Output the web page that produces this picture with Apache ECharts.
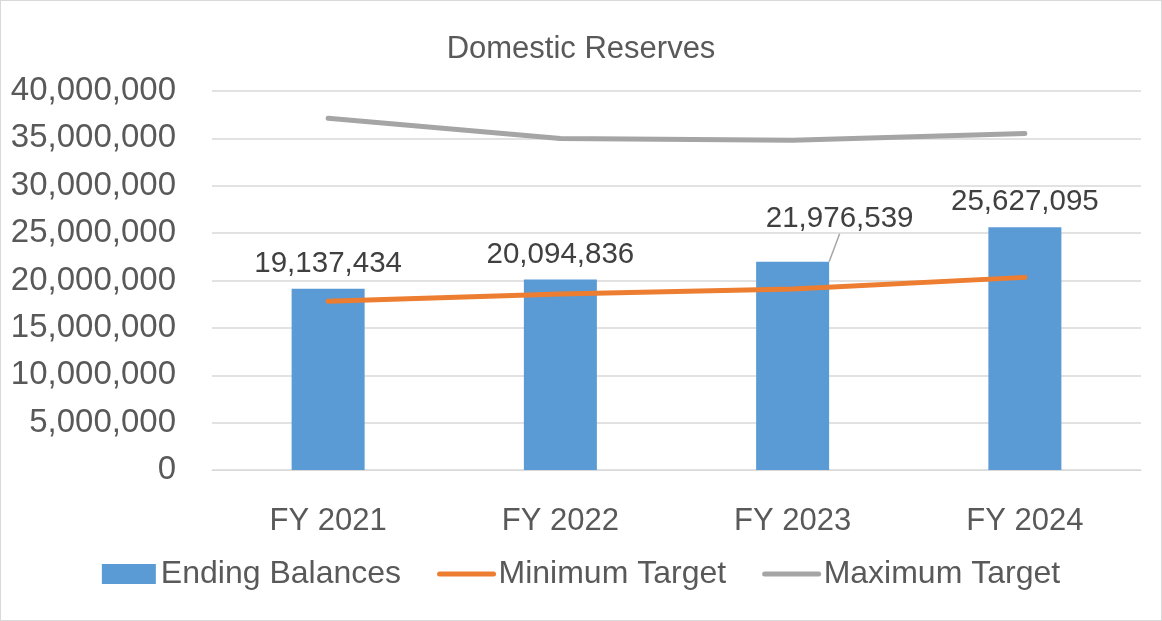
<!DOCTYPE html>
<html lang="en">
<head>
    <meta charset="utf-8">
    <title>Domestic Reserves</title>
    <script src="https://cdn.jsdelivr.net/npm/echarts@6/dist/echarts.min.js"></script>
    <style>
        html, body { margin: 0; padding: 0; background: #fff; }
        #main { width: 1162px; height: 621px; box-sizing: border-box; border: 1px solid #d9d9d9; }
    </style>
</head>
<body>
    <div id="main"></div>
<script type="text/javascript">
    // data
    var years = ['FY 2021', 'FY 2022', 'FY 2023', 'FY 2024'];
    var endingBalances = [19137434, 20094836, 21976539, 25627095];
    var minimumTarget = [17800000, 18580000, 19100000, 20330000];
    var maximumTarget = [37130000, 34990000, 34800000, 35520000];

    var fontName = 'Liberation Sans';
    var textGray = '#595959';

    function fmt(v) {
        return Number(v).toLocaleString('en-US');
    }

    // only the FY 2023 label is pulled aside with a leader line
    var barData = endingBalances.map(function (v, i) {
        if (i === 2) {
            return { value: v, labelLine: { show: true } };
        }
        return v;
    });

    var myChart = echarts.init(document.getElementById('main'));

    var option = {
        animation: false,
        title: {
            text: 'Domestic Reserves',
            left: 'center',
            top: 28,
            textStyle: { fontFamily: fontName, fontSize: 31, fontWeight: 'normal', color: textGray }
        },
        legend: {
            bottom: 25,
            left: 'center',
            itemGap: 36,
            itemWidth: 54,
            itemHeight: 20,
            textStyle: { fontFamily: fontName, fontSize: 32, color: textGray },
            data: [
                { name: 'Ending Balances', icon: 'rect' },
                { name: 'Minimum Target', itemStyle: { opacity: 0 }, lineStyle: { width: 5, cap: 'round' } },
                { name: 'Maximum Target', itemStyle: { opacity: 0 }, lineStyle: { width: 5, cap: 'round' } }
            ]
        },
        grid: {
            left: 211,
            right: 20,
            top: 90,
            bottom: 150
        },
        xAxis: {
            type: 'category',
            data: years,
            axisLine: { lineStyle: { color: '#d9d9d9' } },
            axisTick: { show: false },
            axisLabel: { margin: 36, fontFamily: fontName, fontSize: 31, color: textGray }
        },
        yAxis: {
            type: 'value',
            min: 0,
            max: 40000000,
            interval: 5000000,
            axisLine: { show: false },
            axisTick: { show: false },
            splitLine: { lineStyle: { color: '#d9d9d9', width: 1.5 } },
            axisLabel: {
                margin: 36,
                fontFamily: fontName,
                fontSize: 33,
                color: textGray,
                formatter: fmt
            }
        },
        series: [
            {
                name: 'Ending Balances',
                type: 'bar',
                barWidth: 73,
                itemStyle: { color: '#5b9bd5' },
                label: {
                    show: true,
                    position: 'top',
                    distance: 10,
                    fontFamily: fontName,
                    fontSize: 29.5,
                    color: '#404040',
                    formatter: function (p) { return fmt(p.value); }
                },
                labelLine: { show: false, lineStyle: { color: '#a5a5a5', width: 1.5 } },
                labelLayout: function (params) {
                    if (params.dataIndex === 2) {
                        return { dx: 47, dy: -18 };
                    }
                    return {};
                },
                data: barData
            },
            {
                name: 'Minimum Target',
                type: 'line',
                symbol: 'none',
                lineStyle: { color: '#ed7d31', width: 5, cap: 'round' },
                itemStyle: { color: '#ed7d31' },
                data: minimumTarget
            },
            {
                name: 'Maximum Target',
                type: 'line',
                symbol: 'none',
                lineStyle: { color: '#a5a5a5', width: 5, cap: 'round' },
                itemStyle: { color: '#a5a5a5' },
                data: maximumTarget
            }
        ]
    };

    myChart.setOption(option);
</script>
</body>
</html>
